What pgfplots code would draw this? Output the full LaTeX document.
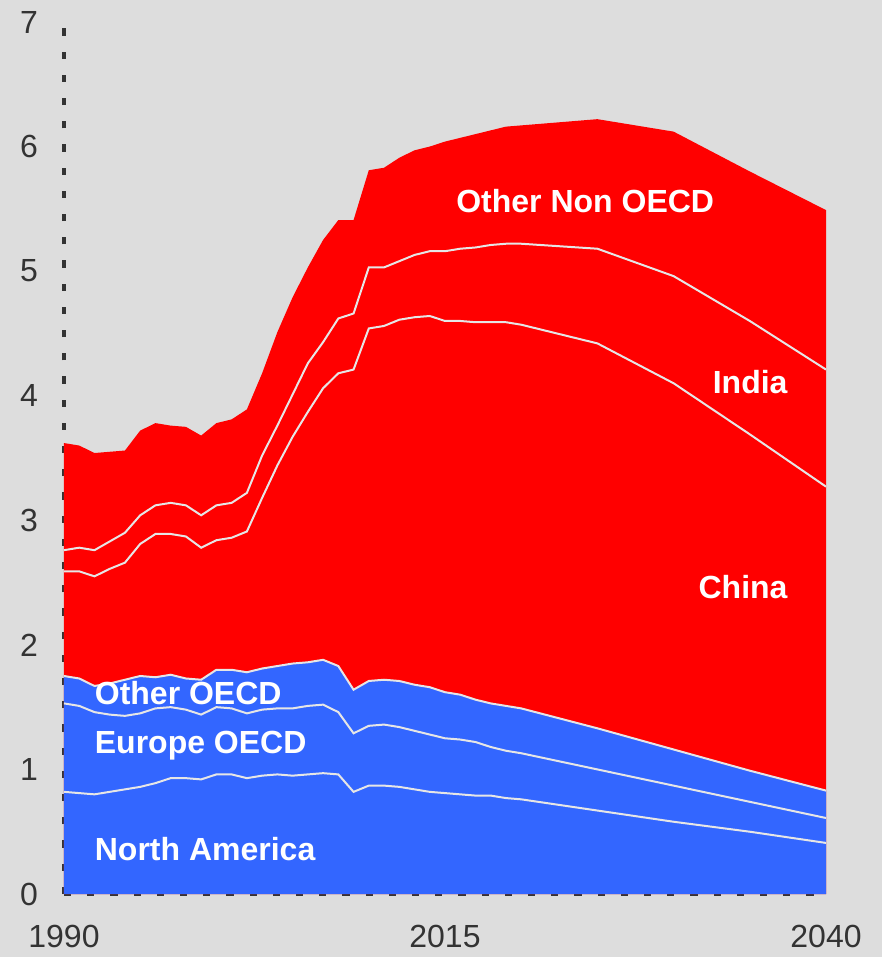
\documentclass[border=0pt]{standalone}
\usepackage{fontspec}
\setmainfont{Liberation Sans}
\usepackage{pgfplots}
\usepackage{pgfplotstable}
\pgfplotsset{compat=1.18}
\definecolor{bg}{HTML}{DDDDDD}
\definecolor{cred}{HTML}{FF0000}
\definecolor{cblue}{HTML}{3366FF}
\definecolor{axisgray}{HTML}{333333}
\definecolor{sep}{HTML}{E6E6E6}

% per-region values
\pgfplotstableread{
year na   eu   oo   cn   ind  ono
1990 0.82 0.71 0.22 0.84 0.17 0.86
1991 0.81 0.70 0.22 0.86 0.19 0.82
1992 0.80 0.66 0.21 0.88 0.21 0.78
1993 0.82 0.62 0.25 0.92 0.22 0.72
1994 0.84 0.59 0.29 0.94 0.24 0.66
1995 0.86 0.59 0.30 1.06 0.23 0.68
1996 0.89 0.60 0.25 1.15 0.23 0.66
1997 0.93 0.57 0.26 1.13 0.25 0.62
1998 0.93 0.55 0.25 1.14 0.25 0.63
1999 0.92 0.52 0.28 1.06 0.26 0.64
2000 0.96 0.54 0.30 1.04 0.28 0.66
2001 0.96 0.53 0.31 1.06 0.28 0.67
2002 0.93 0.52 0.33 1.13 0.31 0.67
2003 0.95 0.53 0.33 1.37 0.34 0.66
2004 0.96 0.53 0.34 1.61 0.32 0.75
2005 0.95 0.54 0.36 1.82 0.34 0.78
2006 0.96 0.55 0.35 2.01 0.39 0.77
2007 0.97 0.55 0.36 2.18 0.37 0.82
2008 0.96 0.50 0.37 2.35 0.44 0.79
2009 0.82 0.47 0.35 2.57 0.45 0.75
2010 0.87 0.48 0.36 2.83 0.49 0.78
2011 0.87 0.49 0.36 2.84 0.47 0.80
2012 0.86 0.48 0.37 2.90 0.47 0.83
2013 0.84 0.47 0.37 2.95 0.50 0.84
2014 0.82 0.46 0.38 2.98 0.52 0.84
2015 0.81 0.44 0.37 2.98 0.56 0.88
2016 0.80 0.44 0.36 3.00 0.58 0.89
2017 0.79 0.43 0.34 3.03 0.60 0.91
2018 0.79 0.39 0.35 3.06 0.62 0.92
2019 0.77 0.38 0.36 3.08 0.63 0.94
2020 0.76 0.37 0.36 3.08 0.65 0.95
2025 0.67 0.33 0.33 3.09 0.76 1.04
2030 0.58 0.29 0.29 2.94 0.86 1.16
2035 0.50 0.24 0.25 2.70 0.91 1.20
2040 0.41 0.20 0.22 2.44 0.94 1.28
}\data
\pgfplotstablecreatecol[expr={\thisrow{na}+\thisrow{eu}}]{c2}{\data}
\pgfplotstablecreatecol[expr={\thisrow{c2}+\thisrow{oo}}]{c3}{\data}
\pgfplotstablecreatecol[expr={\thisrow{c3}+\thisrow{cn}}]{c4}{\data}
\pgfplotstablecreatecol[expr={\thisrow{c4}+\thisrow{ind}}]{c5}{\data}
\pgfplotstablecreatecol[expr={\thisrow{c5}+\thisrow{ono}}]{c6}{\data}

\begin{document}
\begin{tikzpicture}
\fill[bg] (-32pt,-31.5pt) rectangle (409pt,447pt);
\begin{axis}[
  at={(0,0)}, anchor=south west,
  scale only axis, width=381pt, height=436pt,
  xmin=1990, xmax=2040, ymin=0, ymax=7,
  axis lines=left,
  axis line style={-, draw=axisgray, line width=2pt, dash pattern=on 3.6pt off 8pt},
  xtick={1990,2015,2040}, ytick={0,1,2,3,4,5,6,7},
  major tick length=0pt, tick style={draw=none},
  tick label style={font=\fontsize{16}{19}\selectfont, text=axisgray},
  xticklabel style={yshift=-12pt, /pgf/number format/1000 sep={}},
  yticklabel style={xshift=-9.5pt},
  /pgf/number format/assume math mode=true,
  axis on top=false,
]
\addplot[draw=none, fill=cred] table[x=year, y=c6] {\data} \closedcycle;
\addplot[draw=none, fill=cblue] table[x=year, y=c3] {\data} \closedcycle;
\addplot[sep, line width=1pt] table[x=year, y=na] {\data};
\addplot[sep, line width=1pt] table[x=year, y=c2] {\data};
\addplot[sep, line width=1pt] table[x=year, y=c3] {\data};
\addplot[sep, line width=1pt] table[x=year, y=c4] {\data};
\addplot[sep, line width=1pt] table[x=year, y=c5] {\data};

\tikzset{lab/.style={text=white, font=\bfseries\fontsize{16}{19}\selectfont, inner sep=0pt}}
\node[lab] at (axis cs:2024.2,5.56) {Other Non OECD};
\node[lab, anchor=east] at (axis cs:2037.5,4.11) {India};
\node[lab, anchor=east] at (axis cs:2037.5,2.46) {China};
\node[lab, anchor=west] at (axis cs:1992,1.61) {Other OECD};
\node[lab, anchor=west] at (axis cs:1992,1.19) {Europe OECD};
\node[lab, anchor=west] at (axis cs:1992,0.36) {North America};
\end{axis}
\pgfresetboundingbox
\path[use as bounding box] (-32pt,-31.5pt) rectangle (409pt,447pt);
\end{tikzpicture}
\end{document}
